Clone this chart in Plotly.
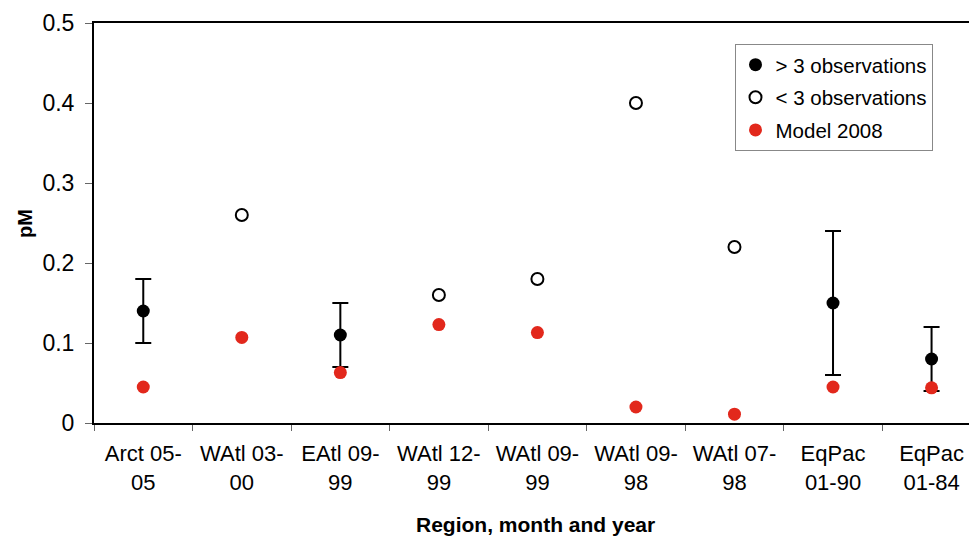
import plotly.graph_objects as go

categories = ["Arct 05-<br>05", "WAtl 03-<br>00", "EAtl 09-<br>99", "WAtl 12-<br>99",
              "WAtl 09-<br>99", "WAtl 09-<br>98", "WAtl 07-<br>98", "EqPac<br>01-90", "EqPac<br>01-84"]
many_obs = [0.14, None, 0.11, None, None, None, None, 0.15, 0.08]
many_err = [0.04, None, 0.04, None, None, None, None, 0.09, 0.04]
few_obs = [None, 0.26, None, 0.16, 0.18, 0.40, 0.22, None, None]
model_2008 = [0.045, 0.107, 0.063, 0.123, 0.113, 0.020, 0.011, 0.045, 0.044]

FONT = "Liberation Sans, Arial, sans-serif"
RED = "#e2281c"

fig = go.Figure()
fig.add_trace(go.Scatter(
    x=categories, y=many_obs, mode="markers", name="> 3 observations", legendgroup="a",
    marker=dict(size=13, color="black"),
    error_y=dict(type="data", array=many_err, visible=True, color="black", thickness=2, width=8),
))
fig.add_trace(go.Scatter(
    x=categories, y=few_obs, mode="markers", name="< 3 observations", legendgroup="b",
    marker=dict(size=12, color="white", line=dict(color="black", width=2)),
))
fig.add_trace(go.Scatter(
    x=categories, y=model_2008, mode="markers", name="Model 2008", legendgroup="c",
    marker=dict(size=13, color=RED),
))

fig.update_layout(
    width=969, height=536,
    margin=dict(l=94, r=0, t=23, b=113),
    paper_bgcolor="white", plot_bgcolor="white",
    font=dict(family=FONT, color="black"),
    showlegend=True,
    legend=dict(
        x=0.732, y=0.948, xanchor="left", yanchor="top",
        bordercolor="#888", borderwidth=1, bgcolor="white",
        font=dict(size=20.5, family=FONT), itemwidth=30, tracegroupgap=3,
    ),
    xaxis=dict(
        type="category", range=[-0.5, 8.38],
        showline=True, linecolor="black", linewidth=2, mirror=True,
        ticks="outside", tickson="boundaries", ticklen=6, tickcolor="#666", tickwidth=1,
        tickfont=dict(size=22, family=FONT), showgrid=False, zeroline=False,
        tickangle=0, ticklabelstandoff=10,
    ),
    yaxis=dict(
        range=[0, 0.5], dtick=0.1, tick0=0,
        showline=True, linecolor="black", linewidth=2,
        ticks="outside", ticklen=7, tickcolor="#666", tickwidth=1,
        tickfont=dict(size=23, family=FONT), showgrid=False, zeroline=False,
        ticklabelstandoff=6,
    ),
    annotations=[
        dict(text="<b>Region, month and year</b>", xref="paper", yref="paper",
             x=0.505, y=-0.2525, xanchor="center", yanchor="middle",
             showarrow=False, font=dict(size=21, family=FONT)),
        dict(text="<b>pM</b>", xref="paper", yref="paper",
             x=-0.079, y=0.5, xanchor="center", yanchor="middle", textangle=-90,
             showarrow=False, font=dict(size=20, family=FONT)),
    ],
)

fig.write_html(
    "out.html",
    config={"displayModeBar": False},
    post_script="document.body.style.margin='0';document.body.style.overflow='hidden';",
)
